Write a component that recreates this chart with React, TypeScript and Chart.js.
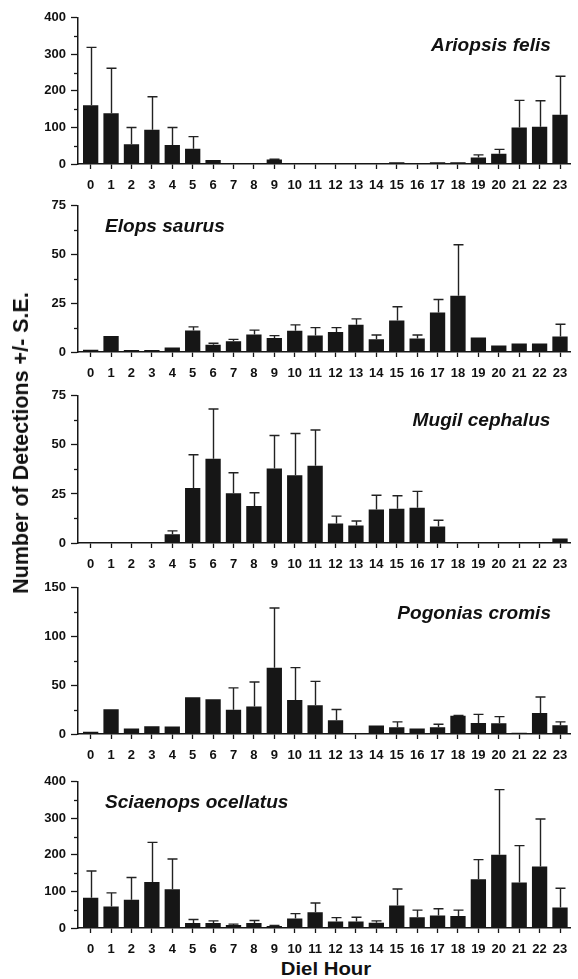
import React, { useEffect, useRef } from "react";
import { Chart, registerables } from "chart.js";

Chart.register(...registerables);

// ---- data ----
const hours = [0, 1, 2, 3, 4, 5, 6, 7, 8, 9, 10, 11, 12, 13, 14, 15, 16, 17, 18, 19, 20, 21, 22, 23];
const hourLabels = ["0", "1", "2", "3", "4", "5", "6", "7", "8", "9", "10", "11", "12", "13", "14", "15", "16", "17", "18", "19", "20", "21", "22", "23"];

const ariopsisMeans = [161, 139, 54, 94, 52, 42, 11, 0, 0, 12, 0, 0, 0, 0, 0, 5, 0, 5, 5, 18, 28, 100, 102, 135];
const ariopsisSE = [158, 123, 46, 90, 48, 33, 0, 0, 0, 1, 0, 0, 0, 0, 0, 0, 0, 0, 0, 7, 12, 74, 71, 105];

const elopsMeans = [1.2, 8.2, 1, 1, 2.3, 11, 3.7, 5.5, 9, 7.2, 10.9, 8.5, 10.2, 14, 6.5, 16.2, 6.9, 20.2, 28.9, 7.4, 3.3, 4.3, 4.3, 7.9];
const elopsSE = [0, 0, 0, 0, 0, 1.9, 0.8, 1.0, 2.2, 1.2, 3.0, 4.0, 2.3, 3.0, 2.2, 7.0, 1.8, 6.7, 26.1, 0, 0, 0, 0, 6.3];

const mugilMeans = [0, 0, 0, 0, 4.4, 28, 42.9, 25.3, 18.8, 37.9, 34.5, 39.4, 9.9, 8.9, 17.1, 17.4, 17.9, 8.4, 0, 0, 0, 0, 0, 2.3];
const mugilSE = [0, 0, 0, 0, 1.8, 17, 25.4, 10.5, 6.8, 16.9, 21.3, 18.2, 3.8, 2.3, 7.2, 6.7, 8.4, 3.2, 0, 0, 0, 0, 0, 0];

const pogoniasMeans = [2.3, 25.5, 5.7, 8, 7.7, 37.6, 35.6, 24.8, 28.2, 68.1, 34.9, 29.5, 14.1, 0, 8.7, 7, 5.7, 7, 18.8, 11.4, 11, 1.3, 21.5, 9];
const pogoniasSE = [0, 0, 0, 0, 0, 0, 0, 22.5, 25.2, 61.1, 33.2, 24.5, 11.1, 0, 0, 5.4, 0, 3, 0.3, 8.7, 6.8, 0, 16.4, 3.4];

const sciaenopsMeans = [82.9, 58.8, 77.5, 125.6, 106, 13.4, 13.4, 8, 13.4, 5.3, 25.8, 42.8, 17.8, 17.8, 14.3, 61.5, 29.4, 33.9, 33, 133.6, 200.4, 124.7, 168.4, 56.1];
const sciaenopsSE = [73, 37.4, 60.5, 108.7, 82.9, 9.8, 6.2, 2.7, 7.1, 1.8, 13.4, 25.8, 10.7, 11.6, 5.3, 45.4, 19.6, 18.7, 16, 53.4, 178.2, 100.7, 130, 52.6];

const speciesNames = ["Ariopsis felis", "Elops saurus", "Mugil cephalus", "Pogonias cromis", "Sciaenops ocellatus"];
const yMaxes = [400, 75, 75, 150, 400];
const yMajorSteps = [100, 25, 25, 50, 100];

const yAxisTitle = "Number of Detections +/- S.E.";
const xAxisTitle = "Diel Hour";

// ---- styling / layout ----
const FONT = "'Liberation Sans', Arial, Helvetica, sans-serif";
const INK = "#161616";

type PanelLayout = {
  top: number;
  plotH: number;
  titleX: number;
  titleY: number;
  align: "left" | "right";
};

const layouts: PanelLayout[] = [
  { top: 15, plotH: 149, titleX: 551, titleY: 45, align: "right" },
  { top: 203, plotH: 149, titleX: 105, titleY: 226, align: "left" },
  { top: 393, plotH: 150, titleX: 550, titleY: 420, align: "right" },
  { top: 585, plotH: 149, titleX: 551, titleY: 613, align: "right" },
  { top: 779, plotH: 149, titleX: 105, titleY: 802, align: "left" },
];

const PAD_TOP = 10;
const X_AXIS_H = 30;
const W = 578;

const errorBarPlugin = {
  id: "errorBars",
  afterDatasetsDraw(chart: any) {
    const ds = chart.data.datasets[0] as any;
    const se: number[] = ds.seValues;
    const meta = chart.getDatasetMeta(0);
    const ys = chart.scales.y;
    const ctx = chart.ctx;
    ctx.save();
    ctx.strokeStyle = "#222";
    ctx.lineWidth = 1.4;
    meta.data.forEach((bar: any, i: number) => {
      const e = se[i];
      if (!e) return;
      const mean = ds.data[i].y;
      const yTop = ys.getPixelForValue(mean + e);
      const x = Math.round(bar.x) + 0.5;
      ctx.beginPath();
      ctx.moveTo(x, bar.y);
      ctx.lineTo(x, yTop);
      ctx.moveTo(x - 5, yTop);
      ctx.lineTo(x + 5, yTop);
      ctx.stroke();
    });
    ctx.restore();
  },
};

const minorTickPlugin = {
  id: "minorTicks",
  afterDraw(chart: any) {
    const ys = chart.scales.y;
    const step = (chart.options as any).minorStep as number;
    const max = ys.max;
    const left = chart.chartArea.left;
    const ctx = chart.ctx;
    ctx.save();
    ctx.strokeStyle = INK;
    ctx.lineWidth = 1.3;
    for (let v = step; v < max; v += step * 2) {
      const y = Math.round(ys.getPixelForValue(v)) + 0.5;
      ctx.beginPath();
      ctx.moveTo(left - 4, y);
      ctx.lineTo(left, y);
      ctx.stroke();
    }
    ctx.restore();
  },
};

function Panel({ means, se, max, step, layout }: { means: number[]; se: number[]; max: number; step: number; layout: PanelLayout }) {
  const ref = useRef<HTMLCanvasElement | null>(null);
  const h = layout.plotH + PAD_TOP + X_AXIS_H;
  useEffect(() => {
    if (!ref.current) return;
    const tickFont = { family: FONT, size: 13, weight: "bold" as const };
    const chart = new Chart(ref.current, {
      type: "bar",
      data: {
        datasets: [
          {
            data: hours.map((hh, i) => ({ x: hh, y: means[i] })),
            backgroundColor: INK,
            borderWidth: 0,
            barPercentage: 0.75,
            categoryPercentage: 1,
            seValues: se,
          } as any,
        ],
      },
      options: {
        animation: false,
        responsive: false,
        maintainAspectRatio: false,
        devicePixelRatio: 1,
        minorStep: step / 2,
        layout: { padding: { top: PAD_TOP, right: 8, left: 0, bottom: 0 } },
        plugins: { legend: { display: false }, tooltip: { enabled: false }, title: { display: false } },
        scales: {
          x: {
            type: "linear",
            min: -0.62,
            max: 23.49,
            offset: false,
            afterBuildTicks: (s: any) => {
              s.ticks = hours.map((v) => ({ value: v }));
            },
            afterFit: (s: any) => {
              s.height = X_AXIS_H;
            },
            ticks: {
              autoSkip: false,
              maxRotation: 0,
              minRotation: 0,
              padding: 9,
              color: "#111",
              font: tickFont,
              callback: (_v: any, idx: number) => hourLabels[idx],
            },
            grid: { drawOnChartArea: false, offset: false, tickLength: 5, tickColor: INK, tickWidth: 1.3 },
            border: { display: true, color: INK, width: 1.5 },
          },
          y: {
            min: 0,
            max: max,
            afterFit: (s: any) => {
              s.width = 78;
            },
            ticks: { stepSize: step, padding: 5, color: "#111", font: tickFont },
            grid: { drawOnChartArea: false, tickLength: 7, tickColor: INK, tickWidth: 1.3 },
            border: { display: true, color: INK, width: 1.5 },
          },
        },
      } as any,
      plugins: [errorBarPlugin, minorTickPlugin],
    });
    return () => chart.destroy();
  }, []);
  return (
    <canvas
      ref={ref}
      width={W}
      height={h}
      style={{ position: "absolute", left: 0, top: layout.top - PAD_TOP, width: W, height: h }}
    />
  );
}

export default function App() {
  const meansList = [ariopsisMeans, elopsMeans, mugilMeans, pogoniasMeans, sciaenopsMeans];
  const seList = [ariopsisSE, elopsSE, mugilSE, pogoniasSE, sciaenopsSE];
  return (
    <div style={{ position: "absolute", left: 0, top: 0, width: W, height: 979, background: "#fff", overflow: "hidden" }}>
      {layouts.map((lay, i) => (
        <Panel key={i} means={meansList[i]} se={seList[i]} max={yMaxes[i]} step={yMajorSteps[i]} layout={lay} />
      ))}
      {layouts.map((lay, i) => (
        <div
          key={"t" + i}
          style={{
            position: "absolute",
            top: lay.titleY - 9,
            ...(lay.align === "right" ? { right: W - lay.titleX } : { left: lay.titleX }),
            font: `italic bold 17.5px ${FONT}`,
            lineHeight: "18px",
            color: "#111",
            whiteSpace: "nowrap",
            transform: "scaleX(1.09)",
            transformOrigin: lay.align === "right" ? "right center" : "left center",
          }}
        >
          {speciesNames[i]}
        </div>
      ))}
      <div
        style={{
          position: "absolute",
          left: 21,
          top: 443,
          transform: "translate(-50%, -50%) rotate(-90deg)",
          font: `bold 21.5px ${FONT}`,
          lineHeight: "22px",
          color: "#111",
          whiteSpace: "nowrap",
        }}
      >
        {yAxisTitle}
      </div>
      <div
        style={{
          position: "absolute",
          left: 326,
          top: 969,
          transform: "translate(-50%, -50%) scaleX(1.1)",
          font: `bold 18.5px ${FONT}`,
          lineHeight: "20px",
          color: "#111",
          whiteSpace: "nowrap",
        }}
      >
        {xAxisTitle}
      </div>
    </div>
  );
}
